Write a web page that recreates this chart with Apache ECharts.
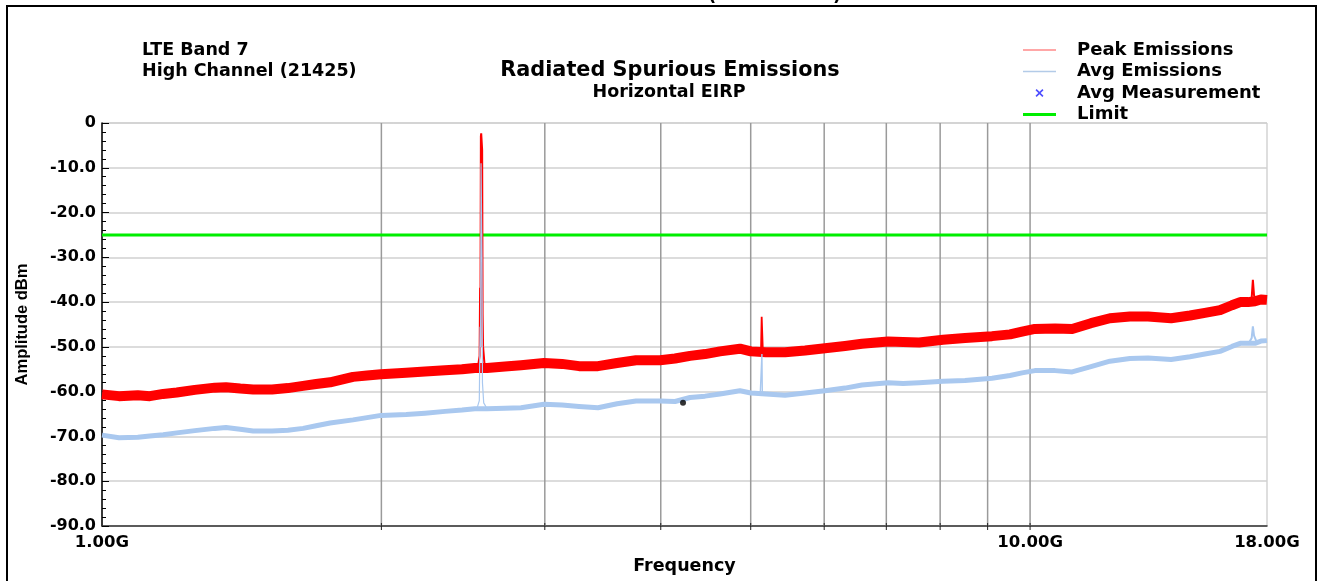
<!DOCTYPE html>
<html>
<head>
<meta charset="utf-8">
<script src="https://cdn.jsdelivr.net/npm/echarts@6/dist/echarts.min.js"></script>
<style>
  html, body { margin: 0; padding: 0; background: #ffffff; }
  #chart { width: 1323px; height: 581px; }
</style>
</head>
<body>
<div id="chart"></div>
<script>
// Sweep sample frequencies (GHz) for the two measured traces
const sweepFreqs = [
  1.000, 1.043, 1.093, 1.126, 1.164, 1.204, 1.259, 1.323, 1.360, 1.409,
  1.455, 1.525, 1.586, 1.647, 1.701, 1.761, 1.864, 1.930, 1.998, 2.127,
  2.229, 2.342, 2.443, 2.522, 2.599, 2.718, 2.828, 2.994, 3.131, 3.266,
  3.423, 3.589, 3.762, 3.993, 4.144, 4.301, 4.464, 4.633, 4.868, 5.003,
  5.193, 5.445, 5.722, 6.012, 6.318, 6.590, 7.031, 7.298, 7.594, 8.058,
  8.509, 9.099, 9.514, 9.802, 10.12, 10.64, 11.10, 11.63, 12.19, 12.81,
  13.40, 14.19, 14.87, 15.43, 16.02, 16.50, 16.84, 17.17, 17.47, 17.73,
  18.00
];

// Peak detector trace (dBm)
const peakLevels = [
  -60.6, -61.0, -60.8, -61.0, -60.5, -60.2, -59.6, -59.1, -59.0, -59.3,
  -59.5, -59.5, -59.2, -58.7, -58.3, -57.9, -56.7, -56.4, -56.1, -55.8,
  -55.5, -55.2, -55.0, -54.7, -54.7, -54.4, -54.1, -53.6, -53.8, -54.3,
  -54.3, -53.6, -53.0, -53.0, -52.6, -52.0, -51.6, -51.0, -50.4, -51.0,
  -51.2, -51.2, -50.8, -50.3, -49.8, -49.3, -48.8, -48.9, -49.0, -48.4,
  -48.0, -47.6, -47.2, -46.6, -46.0, -45.9, -46.0, -44.7, -43.6, -43.2,
  -43.2, -43.6, -43.0, -42.4, -41.8, -40.7, -40.0, -40.0, -39.8, -39.4,
  -39.5
];

// Average detector trace (dBm)
const avgLevels = [
  -69.7, -70.3, -70.2, -69.9, -69.6, -69.2, -68.7, -68.2, -68.0, -68.4,
  -68.8, -68.8, -68.6, -68.2, -67.6, -67.0, -66.3, -65.8, -65.3, -65.1,
  -64.8, -64.4, -64.1, -63.8, -63.8, -63.7, -63.6, -62.8, -63.0, -63.3,
  -63.6, -62.7, -62.1, -62.1, -62.2, -61.3, -61.0, -60.5, -59.8, -60.3,
  -60.5, -60.8, -60.3, -59.8, -59.2, -58.5, -58.0, -58.2, -58.0, -57.7,
  -57.5, -57.0, -56.4, -55.8, -55.3, -55.3, -55.6, -54.4, -53.2, -52.6,
  -52.5, -52.8, -52.2, -51.6, -51.0, -49.9, -49.2, -49.2, -49.2, -48.7,
  -48.6
];

// Narrow emissions: carrier (~2.565 GHz), 2nd harmonic (~5.14 GHz), spur near 17.4 GHz
const carrierPeak = [[2.540, -54.8], [2.552, -52.0], [2.555, -36.8], [2.557, -50.0], [2.560, -3.0],
                     [2.562, -2.3], [2.566, -2.6], [2.568, -6.0], [2.571, -42.7], [2.574, -50.0], [2.585, -54.7]];
const carrierAvg = [[2.535, -63.8], [2.550, -62.0], [2.555, -45.5], [2.558, -50.0], [2.561, -9.0],
                    [2.564, -8.6], [2.567, -30.0], [2.570, -58.0], [2.578, -62.5], [2.600, -63.8]];
const harmonicPeak = [[5.100, -51.0], [5.130, -50.5], [5.138, -43.3], [5.144, -43.5], [5.152, -50.5], [5.180, -51.2]];
const harmonicAvg = [[5.120, -60.4], [5.136, -60.0], [5.141, -51.6], [5.146, -60.0], [5.160, -60.5]];
const spurPeak = [[17.20, -40.0], [17.33, -39.0], [17.38, -35.0], [17.43, -38.5], [17.55, -40.0]];
const spurAvg = [[17.20, -49.2], [17.33, -48.0], [17.38, -45.4], [17.43, -47.5], [17.55, -49.0]];

// Final average measurement point(s)
const avgMeasurements = [[4.227, -62.5]];

// Emission limit (dBm)
const limitLevel = -25;
const limitSpan = [1, 18];

// Frequency grid positions (GHz)
const gridFreqs = [2, 3, 4, 5, 6, 7, 8, 9, 10];

const FONT = 'DejaVu Sans';
const pairs = (xs, ys) => xs.map((x, i) => [x, ys[i]]);

const chart = echarts.init(document.getElementById('chart'), null, { renderer: 'canvas', width: 1323, height: 581 });

const option = {
  animation: false,
  backgroundColor: '#ffffff',
  grid: { left: 102, top: 123, width: 1165, height: 403, show: true, borderColor: '#bdbdbd', borderWidth: 1 },
  legend: {
    orient: 'vertical',
    left: 1023,
    top: 41,
    padding: 0,
    itemWidth: 33,
    itemHeight: 8,
    itemGap: 3.5,
    selectedMode: false,
    textStyle: { fontFamily: FONT, fontWeight: 'bold', fontSize: 18, color: '#000', lineHeight: 18, padding: [0, 0, 0, 16] },
    data: [
      { name: 'Peak Emissions', icon: 'path://M0,0H33V1.6H0Z', itemStyle: { color: '#ff8a8a', borderWidth: 0 } },
      { name: 'Avg Emissions', icon: 'path://M0,0H33V1.6H0Z', itemStyle: { color: '#b3cbe8', borderWidth: 0 } },
      { name: 'Avg Measurement', icon: 'path://M0,1L1,0L3.5,2.5L6,0L7,1L4.5,3.5L7,6L6,7L3.5,4.5L1,7L0,6L2.5,3.5Z', itemStyle: { color: '#2020ff', borderWidth: 0 } },
      { name: 'Limit', icon: 'path://M0,0H33V3H0Z', itemStyle: { color: '#00ee00', borderWidth: 0 } }
    ]
  },
  xAxis: {
    type: 'log',
    logBase: 10,
    min: 1,
    max: 18,
    name: 'Frequency',
    nameLocation: 'middle',
    nameGap: 31,
    nameTextStyle: { fontFamily: FONT, fontWeight: 'bold', fontSize: 17.5, color: '#000' },
    axisLine: { show: true, onZero: false, lineStyle: { color: '#333', width: 1.5 } },
    axisTick: { show: false },
    splitLine: { show: false },
    minorTick: { show: false },
    minorSplitLine: { show: false },
    axisLabel: {
      formatter: v => v.toFixed(2) + 'G',
      fontFamily: FONT, fontWeight: 'bold', fontSize: 16.5, color: '#000', margin: 8,
      showMinLabel: true, showMaxLabel: true
    }
  },
  yAxis: {
    type: 'value',
    min: -90,
    max: 0,
    interval: 10,
    name: 'Amplitude dBm',
    nameLocation: 'middle',
    nameRotate: 90,
    nameGap: 71,
    nameTextStyle: { fontFamily: 'Liberation Sans', fontWeight: 'bold', fontSize: 16.5, color: '#000' },
    axisLine: { show: true, onZero: false, lineStyle: { color: '#000', width: 1.5 } },
    axisTick: { show: true, inside: true, length: 7, lineStyle: { color: '#000', width: 1 } },
    minorTick: { show: true, splitNumber: 5, length: 4, lineStyle: { color: '#000', width: 1 } },
    splitLine: { show: true, lineStyle: { color: '#d0d0d0', width: 1.5 } },
    axisLabel: {
      formatter: v => (v === 0 ? '0' : v.toFixed(1)),
      fontFamily: FONT, fontWeight: 'bold', fontSize: 16, color: '#000', margin: 6
    }
  },
  graphic: [
    { type: 'rect', silent: true, shape: { x: 7, y: 6, width: 1309, height: 600 }, style: { fill: 'none', stroke: '#000', lineWidth: 2 } },
    { type: 'text', silent: true, x: 712, y: 5, style: { text: '(', font: 'bold 18px "DejaVu Sans"', fill: '#000', align: 'center', verticalAlign: 'bottom' } },
    { type: 'text', silent: true, x: 837, y: 5, style: { text: ')', font: 'bold 18px "DejaVu Sans"', fill: '#000', align: 'center', verticalAlign: 'bottom' } },
    { type: 'text', silent: true, x: 142, y: 50.5, style: { text: 'LTE Band 7', font: 'bold 17.5px "DejaVu Sans"', fill: '#000', align: 'left', verticalAlign: 'middle' } },
    { type: 'text', silent: true, x: 142, y: 71, style: { text: 'High Channel (21425)', font: 'bold 17.5px "DejaVu Sans"', fill: '#000', align: 'left', verticalAlign: 'middle' } },
    { type: 'text', silent: true, x: 670, y: 70.5, style: { text: 'Radiated Spurious Emissions', font: 'bold 20.8px "DejaVu Sans"', fill: '#000', align: 'center', verticalAlign: 'middle' } },
    { type: 'text', silent: true, x: 669, y: 92, style: { text: 'Horizontal EIRP', font: 'bold 17.5px "DejaVu Sans"', fill: '#000', align: 'center', verticalAlign: 'middle' } }
  ],
  series: [
    {
      // frequency grid lines and bottom ticks
      type: 'custom',
      name: 'grid',
      silent: true,
      z: 1,
      clip: false,
      data: gridFreqs.map(f => [f, -90]),
      renderItem: (params, api) => {
        const f = api.value(0);
        const top = api.coord([f, 0]);
        const bot = api.coord([f, -90]);
        return {
          type: 'group',
          children: [
            { type: 'line', shape: { x1: top[0], y1: top[1], x2: bot[0], y2: bot[1] }, style: { stroke: '#9a9a9a', lineWidth: 1.5 } },
            { type: 'line', shape: { x1: bot[0], y1: bot[1] - 3, x2: bot[0], y2: bot[1] + 4 }, style: { stroke: '#222', lineWidth: 1 } }
          ]
        };
      }
    },
    {
      name: 'Limit', type: 'line', z: 3, symbol: 'none', silent: true,
      data: limitSpan.map(f => [f, limitLevel]),
      lineStyle: { color: '#00ee00', width: 3 }
    },
    {
      name: 'Peak Emissions', type: 'line', z: 4, symbol: 'none', silent: true,
      data: pairs(sweepFreqs, peakLevels),
      lineStyle: { color: '#ff0000', width: 10, join: 'round', cap: 'butt' }
    },
    { name: 'Peak Emissions', type: 'line', z: 5, symbol: 'none', silent: true, data: carrierPeak, lineStyle: { color: '#ff0000', width: 2 } },
    { name: 'Peak Emissions', type: 'line', z: 5, symbol: 'none', silent: true, data: harmonicPeak, lineStyle: { color: '#ff0000', width: 1.8 } },
    { name: 'Peak Emissions', type: 'line', z: 5, symbol: 'none', silent: true, data: spurPeak, lineStyle: { color: '#ff0000', width: 2 } },
    {
      name: 'Avg Emissions', type: 'line', z: 6, symbol: 'none', silent: true,
      data: pairs(sweepFreqs, avgLevels),
      lineStyle: { color: '#a9c8ef', width: 5, join: 'round', cap: 'butt' }
    },
    { name: 'Avg Emissions', type: 'line', z: 7, symbol: 'none', silent: true, data: carrierAvg, lineStyle: { color: '#a9c8ef', width: 1.2 } },
    { name: 'Avg Emissions', type: 'line', z: 7, symbol: 'none', silent: true, data: harmonicAvg, lineStyle: { color: '#a9c8ef', width: 1.4 } },
    { name: 'Avg Emissions', type: 'line', z: 7, symbol: 'none', silent: true, data: spurAvg, lineStyle: { color: '#a9c8ef', width: 2 } },
    {
      name: 'Avg Measurement', type: 'scatter', z: 8, silent: true,
      symbol: 'circle', symbolSize: 6,
      data: avgMeasurements,
      itemStyle: { color: '#000' }
    }
  ]
};

chart.setOption(option);
</script>
</body>
</html>
